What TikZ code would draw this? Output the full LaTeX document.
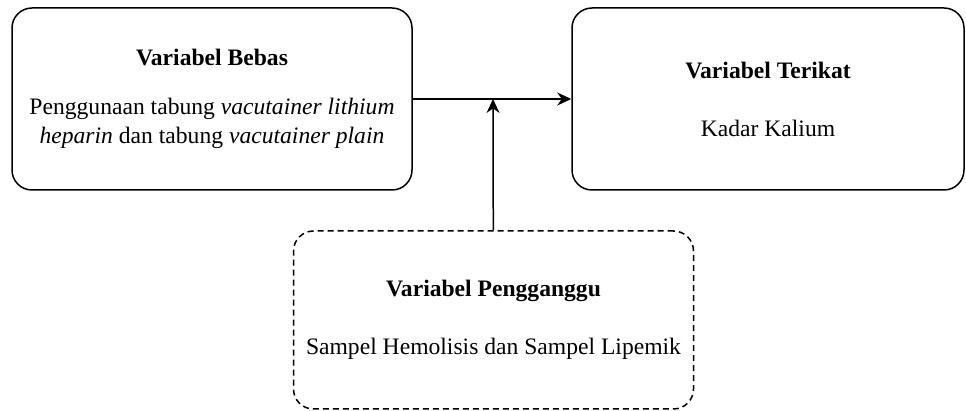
\documentclass[tikz,border=0pt]{standalone}
\usepackage{fontspec}
\setmainfont{Liberation Serif}
\usetikzlibrary{arrows.meta}

\begin{document}
\begin{tikzpicture}
		[x=0.5pt,y=-0.5pt,
		 box/.style= {draw=black,line width=0.75pt,rounded corners=10pt,align=center,inner sep=0pt,font=\fontsize{11.8}{14.5}\selectfont},
		 conn/.style= {line width=0.75pt,>={Stealth[length=7pt,width=6.5pt]}}]

		\useasboundingbox (0,0) rectangle (966,411);

		\node[box,minimum width=200pt,minimum height=91pt] (bebas) at (212,99)
			{\textbf{Variabel Bebas}\\[10pt]
			 Penggunaan tabung \textit{vacutainer lithium}\\
			 \textit{heparin} dan tabung \textit{vacutainer plain}}
		;

		\node[box,minimum width=196pt,minimum height=91pt] (terikat) at (768,99)
			{\textbf{Variabel Terikat}\\[14.5pt] Kadar Kalium}
			edge [conn,<-]	(bebas)
		;

		\coordinate (j) at (493,99);

		\node[box,dashed,dash pattern=on 3pt off 2pt,minimum width=200pt,minimum height=89pt] (pengganggu) at (493.5,320)
			{\textbf{Variabel Pengganggu}\\[14.5pt] Sampel Hemolisis dan Sampel Lipemik}
			edge [conn,->]	(j)
		;

	\end{tikzpicture}
\end{document}
